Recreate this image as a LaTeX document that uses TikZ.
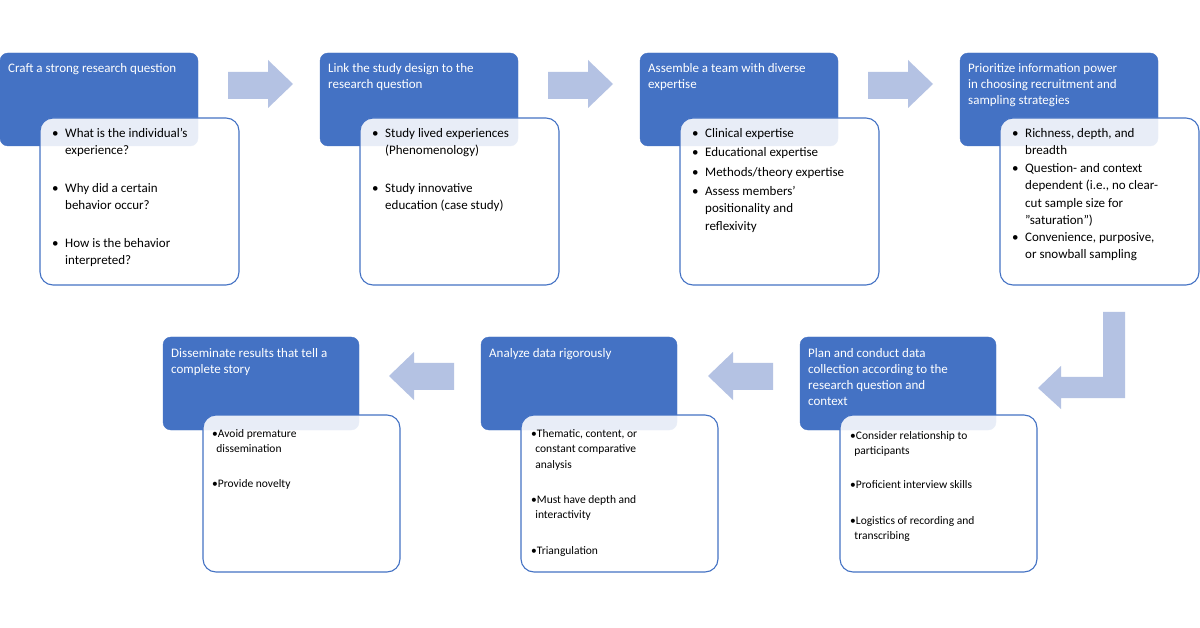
\documentclass[tikz,border=0pt]{standalone}
\usepackage{fontspec}
\setmainfont{Carlito}
\definecolor{bblue}{HTML}{4472C4}
\definecolor{ablue}{HTML}{B4C2E3}
\tikzset{
  bluebox/.style={fill=bblue,draw=bblue,rounded corners=8pt},
  whitebox/.style={fill=white,fill opacity=0.88,draw=bblue,line width=1.1pt,rounded corners=13pt},
  ttl/.style={anchor=north west,inner sep=0pt,align=left,text=white,font=\fontsize{13}{16}\selectfont},
  itm/.style={anchor=north west,inner sep=0pt,align=left,text=black,font=\fontsize{13}{17.5}\selectfont},
  sitm/.style={anchor=north west,inner sep=0pt,align=left,text=black,font=\fontsize{11.5}{15.5}\selectfont},
  blockarrow/.style={fill=ablue,draw=none}
}
\newcommand{\R}{\rule{0pt}{10pt}}
\newcommand{\Rs}{\rule{0pt}{9pt}}
\begin{document}
\begin{tikzpicture}[x=1pt,y=-1pt]
\useasboundingbox[fill=white] (0,0) rectangle (1200,628);
% ---------- top row
\foreach \x/\n in {0/a,320/b,640/c,960/d}{
  \draw[bluebox] (\x,53) rectangle ++(198,93);
  \draw[whitebox] (\x+40,118) rectangle ++(199,167);
}
\node[ttl] (ta) at (8,62) {\R Craft a strong research question};
\node[ttl] (tb) at (328,62) {\R Link the study design to the\\research question};
\node[ttl] (tc) at (648,62) {\R Assemble a team with diverse\\expertise};
\node[ttl] (td) at (968,62) {\R Prioritize information power\\in choosing recruitment and\\sampling strategies};
% box 1 items
\foreach \y in {127,182,237}{\node[itm] at (52,\y) {\R•};}
\node[itm] (a1) at (65,127) {\R What is the individual’s\\experience?};
\node[itm] (a2) at (65,182) {\R Why did a certain\\behavior occur?};
\node[itm] (a3) at (65,237) {\R How is the behavior\\interpreted?};
% box 2
\foreach \y in {127,182}{\node[itm] at (372,\y) {\R•};}
\node[itm] (b1) at (385,127) {\R Study lived experiences\\(Phenomenology)};
\node[itm] (b2) at (385,182) {\R Study innovative\\education (case study)};
% box 3
\foreach \y in {127,146,166,185}{\node[itm] at (692,\y) {\R•};}
\node[itm] (c1) at (705,127) {\R Clinical expertise};
\node[itm] (c2) at (705,146) {\R Educational expertise};
\node[itm] (c3) at (705,166) {\R Methods/theory expertise};
\node[itm] (c4) at (705,185) {\R Assess members’\\positionality and\\reflexivity};
% box 4
\foreach \y in {127,162,231}{\node[itm] at (1012,\y) {\R•};}
\node[itm] (d1) at (1025,127) {\R Richness, depth, and\\breadth};
\node[itm] (d2) at (1025,162) {\R Question- and context\\dependent (i.e., no clear-\\cut sample size for\\"saturation")};
\node[itm] (d3) at (1025,231) {\R Convenience, purposive,\\or snowball sampling};
% top arrows
\foreach \x in {228,548,868}{
  \fill[blockarrow] (\x,72) -- (\x+40,72) -- (\x+40,60) -- (\x+65,84) -- (\x+40,108) -- (\x+40,99) -- (\x,99) -- cycle;
}
% bent arrow
\fill[blockarrow] (1103,312) -- (1125,312) -- (1125,398) -- (1061,398) -- (1061,409) -- (1038,388) -- (1061,366) -- (1061,377) -- (1103,377) -- cycle;
% ---------- bottom row
\foreach \x in {163,481,800}{
  \draw[bluebox] (\x,337) rectangle ++(196,93);
  \draw[whitebox] (\x+40,415) rectangle ++(197,157);
}
\node[ttl] (te) at (808,347) {\R Plan and conduct data\\collection according to the\\research question and\\context};
\node[ttl] (tf) at (489,347) {\R Analyze data rigorously};
\node[ttl] (tg) at (171,347) {\R Disseminate results that tell a\\complete story};
% Plan items
\node[sitm] (e1) at (850,430) {\Rs•Consider relationship to\\\hspace{4.2pt}participants};
\node[sitm] (e2) at (850,479) {\Rs•Proficient interview skills};
\node[sitm] (e3) at (850,515) {\Rs•Logistics of recording and\\\hspace{4.2pt}transcribing};
% Analyze items
\node[sitm] (f1) at (531,428) {\Rs•Thematic, content, or\\\hspace{4.2pt}constant comparative\\\hspace{4.2pt}analysis};
\node[sitm] (f2) at (531,494) {\Rs•Must have depth and\\\hspace{4.2pt}interactivity};
\node[sitm] (f3) at (531,545) {\Rs•Triangulation};
% Disseminate items
\node[sitm] (g1) at (212,428) {\Rs•Avoid premature\\\hspace{4.2pt}dissemination};
\node[sitm] (g2) at (212,478) {\Rs•Provide novelty};
% bottom arrows (left-pointing)
\foreach \x in {708,389}{
  \fill[blockarrow] (\x+65,363) -- (\x+25,363) -- (\x+25,352) -- (\x,376) -- (\x+25,400) -- (\x+25,390) -- (\x+65,390) -- cycle;
}
\end{tikzpicture}
\end{document}
